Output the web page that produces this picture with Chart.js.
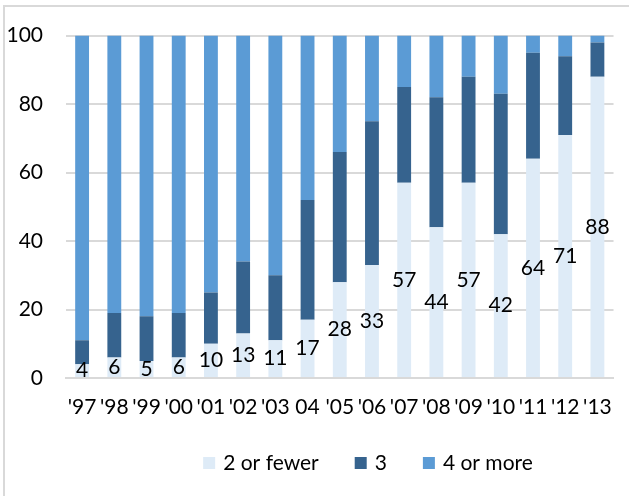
<!DOCTYPE html>
<html>
<head>
<meta charset="utf-8">
<script src="https://cdn.jsdelivr.net/npm/chart.js@4/dist/chart.umd.min.js"></script>
<style>
  html, body { margin: 0; padding: 0; background: #ffffff; overflow: hidden; }
  #wrap { position: relative; width: 629px; height: 496px; }
  #frame {
    position: absolute; left: 3px; top: 5px; width: 700px; height: 600px;
    border-left: 2px solid #d9d9d9; border-top: 2px solid #d9d9d9;
    pointer-events: none;
  }
  canvas { position: absolute; left: 0; top: 0; }
</style>
</head>
<body>
<div id="wrap">
  <div id="frame"></div>
  <canvas id="chart" width="629" height="496"></canvas>
</div>
<script>
// Household-size shares by year (percent)
const years = ["'97", "'98", "'99", "'00", "'01", "'02", "'03", "04", "'05", "'06", "'07", "'08", "'09", "'10", "'11", "'12", "'13"];
const twoOrFewer = [4, 6, 5, 6, 10, 13, 11, 17, 28, 33, 57, 44, 57, 42, 64, 71, 88];
const three      = [7, 13, 13, 13, 15, 21, 19, 35, 38, 42, 28, 38, 31, 41, 31, 23, 10];
const fourOrMore = [89, 81, 82, 81, 75, 66, 70, 48, 34, 25, 15, 18, 12, 17, 5, 6, 2];
const seriesNames = ['2 or fewer', '3', '4 or more'];
const yTicks = [0, 20, 40, 60, 80, 100];

const FONT = 'Lato, "Open Sans", sans-serif';
const FONT_SIZE = 21;

// Value labels centred on the first series' segments
const segmentLabels = {
  id: 'segmentLabels',
  afterDatasetsDraw(chart) {
    const ctx = chart.ctx;
    const meta = chart.getDatasetMeta(0);
    ctx.save();
    ctx.font = FONT_SIZE + 'px ' + FONT;
    ctx.fillStyle = '#000000';
    ctx.textAlign = 'center';
    ctx.textBaseline = 'middle';
    meta.data.forEach((bar, i) => {
      const v = chart.data.datasets[0].data[i];
      const { x, y, base } = bar.getProps(['x', 'y', 'base'], true);
      ctx.fillText(String(v), x, Math.min((y + base) / 2, base - 6));
    });
    ctx.restore();
  }
};

// Legend row below the axis
const bottomLegend = {
  id: 'bottomLegend',
  afterDraw(chart) {
    const ctx = chart.ctx;
    ctx.save();
    ctx.font = FONT_SIZE + 'px ' + FONT;
    ctx.textBaseline = 'middle';
    ctx.textAlign = 'left';
    const box = 12, gapText = 8, gapItem = 36;
    const items = chart.data.datasets.map(ds => ({
      text: ds.label, color: ds.backgroundColor,
      w: box + gapText + ctx.measureText(ds.label).width
    }));
    const total = items.reduce((s, it) => s + it.w, 0) + gapItem * (items.length - 1);
    let x = 368 - total / 2;
    const cy = 463;
    items.forEach(it => {
      ctx.fillStyle = it.color;
      ctx.fillRect(x, cy - box / 2, box, box);
      ctx.fillStyle = '#000000';
      ctx.fillText(it.text, x + box + gapText, cy);
      x += it.w + gapItem;
    });
    ctx.restore();
  }
};

const colors = ['#deebf7', '#36638e', '#5b9bd5'];

new Chart(document.getElementById('chart'), {
  type: 'bar',
  data: {
    labels: years,
    datasets: [
      { label: seriesNames[0], data: twoOrFewer, backgroundColor: colors[0] },
      { label: seriesNames[1], data: three,      backgroundColor: colors[1] },
      { label: seriesNames[2], data: fourOrMore, backgroundColor: colors[2] }
    ]
  },
  options: {
    responsive: false,
    animation: false,
    events: [],
    layout: { padding: { left: 0, right: 9, top: 34, bottom: 78 } },
    datasets: { bar: { categoryPercentage: 1.0, barPercentage: 0.43, borderWidth: 0 } },
    plugins: { legend: { display: false }, tooltip: { enabled: false } },
    scales: {
      x: {
        stacked: true,
        grid: { display: false, drawTicks: false },
        border: { display: true, color: '#d9d9d9', width: 2 },
        ticks: { color: '#000000', font: { family: FONT, size: FONT_SIZE }, padding: 17, maxRotation: 0, autoSkip: false },
        afterFit(scale) { scale.height = 40; }
      },
      y: {
        stacked: true,
        min: 0, max: 100,
        afterBuildTicks(scale) { scale.ticks = yTicks.map(v => ({ value: v })); },
        grid: { color: '#d9d9d9', lineWidth: 2, drawTicks: false },
        border: { display: false },
        ticks: { color: '#000000', font: { family: FONT, size: FONT_SIZE }, padding: 23 },
        afterFit(scale) { scale.width = 66; }
      }
    }
  },
  plugins: [segmentLabels, bottomLegend]
});
</script>
</body>
</html>
